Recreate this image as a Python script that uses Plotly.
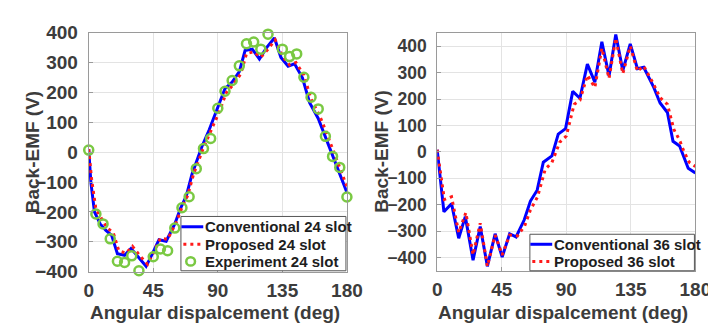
import plotly.graph_objects as go

# ---- data ----
conv24_deg = [0, 1.5, 4, 8, 12, 16, 20, 25, 29.5, 35, 40, 45, 49, 54, 60, 64, 68, 72, 79, 84,
              90, 95, 100, 105, 109, 114, 119, 124, 129.5, 134, 139, 143.5, 149, 154, 160, 165, 170, 175, 180]
conv24_val = [10, -100, -200, -240, -262, -278, -340, -345, -322, -355, -382, -334, -293, -298, -240, -188, -147, -74, 20, 75,
              147, 213, 235, 270, 340, 345, 312, 350, 382, 317, 288, 296, 249, 166, 113, 51, -12, -75, -135]

prop24_deg = [0, 2, 5, 9, 13, 17, 21, 26, 30.5, 36, 41, 46, 50, 55, 61, 65, 69, 73, 80, 85,
              91, 96, 101, 106, 110, 115, 120, 125, 130, 135, 140, 144.5, 150, 155, 161, 166, 171, 176, 180]
prop24_val = [10, -90, -190, -225, -255, -268, -330, -338, -315, -348, -375, -328, -288, -292, -235, -185, -145, -75, 15, 70,
              135, 200, 228, 262, 330, 336, 318, 345, 376, 322, 292, 300, 258, 178, 122, 62, 0, -60, -115]

exp24_deg = [0, 5, 10, 15, 20, 25, 30, 35, 45, 50, 55, 60, 65, 70, 75, 80, 85, 90, 95, 100,
             105, 110, 115, 120, 125, 135, 140, 145, 150, 155, 160, 165, 170, 175, 180]
exp24_val = [7, -207, -240, -290, -365, -369, -347, -397, -350, -324, -330, -254, -186, -149, -55, 12, 46, 147, 204, 240,
             289, 363, 369, 345, 395, 345, 320, 329, 251, 184, 145, 53, -14, -51, -150]

conv36_deg = [0, 4.7, 10, 15, 19.6, 25, 30, 35, 40.4, 45.3, 50.5, 55, 60.7, 65, 69.7, 74, 80, 84.4, 89.5, 94.5,
              99.5, 104.7, 109.9, 114.8, 119.8, 124.5, 129.4, 134.6, 139.6, 144, 151, 155.4, 160.5, 164.4, 169, 175, 180]
conv36_val = [8, -227, -196, -327, -245, -410, -283, -433, -310, -398, -310, -322, -257, -186, -145, -39, -15, 67, 88, 229,
              203, 332, 264, 417, 287, 444, 308, 409, 315, 320, 244, 185, 149, 40, 22, -62, -80]

prop36_deg = [0, 5, 10, 15, 20, 25, 30, 35, 40.4, 45.3, 50.5, 56, 61, 65, 70, 75.3, 80, 85.5, 90, 95.5,
              99.5, 104.7, 109.9, 114.8, 119.8, 124.5, 129.4, 134.6, 139.6, 144, 151, 155.4, 160.5, 165, 169, 172, 175.7, 180]
prop36_val = [8, -180, -170, -305, -230, -390, -270, -433, -315, -390, -315, -318, -280, -220, -170, -66, -40, 37, 60, 180,
              195, 290, 244, 392, 278, 430, 296, 400, 305, 325, 255, 205, 180, 85, 44, 2, -39, -55]

x_ticks = [0, 45, 90, 135, 180]
y_ticks = [-400, -300, -200, -100, 0, 100, 200, 300, 400]

names_24 = ["Conventional 24 slot", "Proposed 24 slot", "Experiment 24 slot"]
names_36 = ["Conventional 36 slot", "Proposed 36 slot"]
x_title = "Angular dispalcement (deg)"
y_title = "Back-EMF (V)"

FONT = "Arial, Liberation Sans, sans-serif"
TXT = "#3c3c3c"
BLUE = "#0000ff"
RED = "#ff1a1a"
GREEN = "#7ac943"
DOT = "3px,4px"

fig = go.Figure()
fig.add_trace(go.Scatter(x=conv24_deg, y=conv24_val, mode="lines", name=names_24[0],
                         line=dict(color=BLUE, width=3), xaxis="x", yaxis="y"))
fig.add_trace(go.Scatter(x=prop24_deg, y=prop24_val, mode="lines", name=names_24[1],
                         line=dict(color=RED, width=3, dash=DOT), xaxis="x", yaxis="y"))
fig.add_trace(go.Scatter(x=exp24_deg, y=exp24_val, mode="markers", name=names_24[2],
                         marker=dict(symbol="circle-open", size=9, color=GREEN, line=dict(width=2.5, color=GREEN)),
                         cliponaxis=False, xaxis="x", yaxis="y"))
fig.add_trace(go.Scatter(x=conv36_deg, y=conv36_val, mode="lines", name=names_36[0],
                         line=dict(color=BLUE, width=3), xaxis="x2", yaxis="y2"))
fig.add_trace(go.Scatter(x=prop36_deg, y=prop36_val, mode="lines", name=names_36[1],
                         line=dict(color=RED, width=3, dash=DOT), xaxis="x2", yaxis="y2"))

W, H = 716, 329


def px(x):
    return x / W


def py(y):
    return 1 - y / H


def axis_common(size):
    return dict(showgrid=True, gridcolor="#e3e3e3", gridwidth=1, zeroline=False,
                showline=True, mirror=True, linecolor="#9a9a9a", linewidth=1,
                ticks="inside", ticklen=4, tickcolor="#9a9a9a",
                tickfont=dict(family=FONT, size=size, color=TXT, weight="bold"))


fig.update_layout(
    width=W, height=H, margin=dict(l=0, r=0, t=0, b=0),
    paper_bgcolor="white", plot_bgcolor="white", showlegend=False,
    xaxis=dict(domain=[px(78), px(344)], range=[0, 180], tickvals=x_ticks, anchor="y",
               ticklabelstandoff=1, **axis_common(19)),
    yaxis=dict(domain=[py(271), py(15.7)], range=[-400, 400], tickvals=y_ticks, anchor="x",
               ticklabelstandoff=6, **axis_common(19)),
    xaxis2=dict(domain=[px(437), px(703)], range=[0, 180], tickvals=x_ticks, anchor="y2",
                ticklabelstandoff=1, **axis_common(19)),
    yaxis2=dict(domain=[py(270), py(16)], range=[-450, 450], tickvals=y_ticks, anchor="x2",
                ticklabelstandoff=6, **axis_common(17.5)),
)

title_font = dict(family=FONT, size=19, color=TXT, weight="bold")
for cx in (208, 567):
    fig.add_annotation(text=x_title, x=px(cx), y=py(315), xref="paper", yref="paper",
                       showarrow=False, font=title_font, xanchor="center", yanchor="middle")
for cx, cy in ((20, 143), (380, 143)):
    fig.add_annotation(text=y_title, x=px(cx), y=py(cy), xref="paper", yref="paper",
                       showarrow=False, font=title_font, textangle=-90, xanchor="center", yanchor="middle")

# ---- legends (boxes inside the lower-right of each panel) ----
leg_font = dict(family=FONT, size=15, color="#1e1e1e", weight="bold")


def draw_legend(x0, x1, y0, y1, names, styles, rows):
    fig.add_shape(type="rect", xref="paper", yref="paper", x0=px(x0), x1=px(x1), y0=py(y1), y1=py(y0),
                  line=dict(color="#555555", width=1), fillcolor="white", layer="above")
    for name, style, ry in zip(names, styles, rows):
        if style == "marker":
            r = 4.5
            fig.add_shape(type="circle", xref="paper", yref="paper",
                          x0=px(x0 + 10 - r), x1=px(x0 + 10 + r), y0=py(ry + r), y1=py(ry - r),
                          line=dict(color=GREEN, width=2.5), layer="above")
        else:
            color, dash = style
            fig.add_shape(type="line", xref="paper", yref="paper",
                          x0=px(x0 + (0.5 if dash == "solid" else 2.5)), x1=px(x0 + 23), y0=py(ry), y1=py(ry),
                          line=dict(color=color, width=3, dash=dash), layer="above")
        fig.add_annotation(text=name, x=px(x0 + 23), y=py(ry), xref="paper", yref="paper",
                           showarrow=False, font=leg_font, xanchor="left", yanchor="middle")


draw_legend(173, 343, 212, 270, names_24,
            [(BLUE, "solid"), (RED, DOT), "marker"], [223, 241.7, 260])
draw_legend(532.5, 702, 231, 270, names_36,
            [(BLUE, "solid"), (RED, DOT)], [241.7, 260])

fig.write_html("out.html")
